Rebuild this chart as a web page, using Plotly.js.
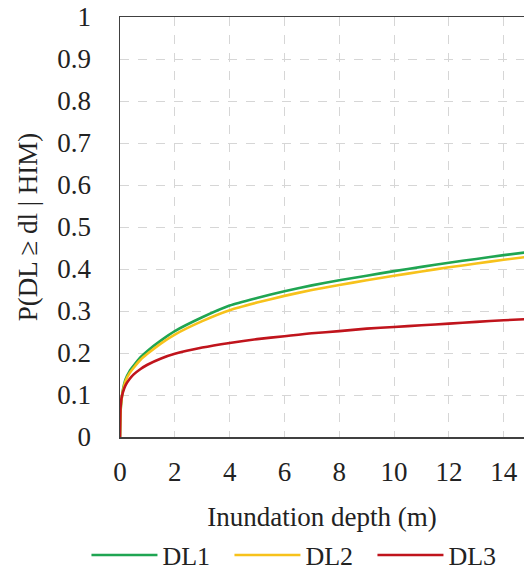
<!DOCTYPE html>
<html>
<head>
<meta charset="utf-8">
<script src="https://cdn.plot.ly/plotly-3.0.1.min.js"></script>
<style>html,body{margin:0;padding:0;background:#fff;}#chart{width:524px;height:577px;}</style>
</head>
<body>
<div id="chart"></div>
<script>
const depth = [0, 0.02, 0.05, 0.1, 0.2, 0.35, 0.5, 0.75, 1, 1.5, 2, 3, 4, 5, 6, 7, 8, 9, 10, 11, 12, 13, 14, 15];
const dl1 = [0, 0.06, 0.085, 0.11, 0.137, 0.157, 0.17, 0.19, 0.205, 0.23, 0.252, 0.285, 0.313, 0.331, 0.347, 0.361, 0.373, 0.384, 0.395, 0.405, 0.415, 0.424, 0.433, 0.441];
const dl2 = [0, 0.06, 0.085, 0.108, 0.133, 0.152, 0.165, 0.184, 0.198, 0.223, 0.244, 0.276, 0.302, 0.32, 0.336, 0.35, 0.362, 0.373, 0.384, 0.394, 0.404, 0.413, 0.422, 0.43];
const dl3 = [0, 0.07, 0.09, 0.105, 0.123, 0.138, 0.149, 0.162, 0.172, 0.187, 0.198, 0.213, 0.224, 0.233, 0.24, 0.247, 0.252, 0.258, 0.262, 0.266, 0.27, 0.274, 0.278, 0.281];
const seriesNames = ['DL1', 'DL2', 'DL3'];
const seriesColors = ['#1fa552', '#f7c21b', '#c0141c'];
const seriesValues = [dl1, dl2, dl3];

const font = {family: '"Liberation Serif", "Times New Roman", serif', size: 27, color: '#222'};
const legendFont = {family: '"Liberation Serif", "Times New Roman", serif', size: 26, color: '#222'};

const traces = seriesNames.map((n, i) => ({
  x: depth, y: seriesValues[i], name: n, type: 'scatter', mode: 'lines',
  line: {color: seriesColors[i], width: 2.6, shape: 'spline', smoothing: 0.6}
}));

const layout = {
  width: 524, height: 577,
  margin: {l: 0, r: 0, t: 17, b: 140},
  paper_bgcolor: '#fff', plot_bgcolor: '#fff',
  font: font,
  showlegend: true,
  legend: {orientation: 'h', xref: 'container', yref: 'container', x: 0.165, xanchor: 'left', y: 0.038, yanchor: 'middle', font: legendFont, itemwidth: 66, entrywidth: 62, tracegroupgap: 0},
  xaxis: {
    domain: [120 / 524, 1],
    range: [0, 14.74], dtick: 2, tick0: 0,
    showgrid: true, gridcolor: '#d6d6d6', griddash: 'dash', gridwidth: 1,
    showline: true, linecolor: '#404040', linewidth: 1.5, mirror: true,
    ticks: 'outside', ticklen: 10, tickcolor: 'rgba(0,0,0,0)',
    zeroline: false, tickfont: font,
    title: {text: 'Inundation depth (m)', font: font, standoff: 33}
  },
  yaxis: {
    range: [0, 1], dtick: 0.1, tick0: 0,
    showgrid: true, gridcolor: '#d6d6d6', griddash: 'dash', gridwidth: 1,
    showline: true, linecolor: '#404040', linewidth: 1.5, mirror: false,
    ticks: 'outside', ticklen: 22, tickcolor: 'rgba(0,0,0,0)',
    zeroline: false, tickfont: font,
    title: {text: 'P(DL ≥ dl | HIM)', font: font, standoff: 12}
  }
};

Plotly.newPlot('chart', traces, layout, {displayModeBar: false, staticPlot: true});
</script>
</body>
</html>
